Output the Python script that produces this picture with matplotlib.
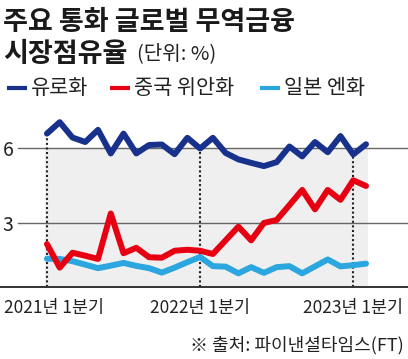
import matplotlib
matplotlib.use('Agg')
import matplotlib.pyplot as plt
from matplotlib.lines import Line2D
import matplotlib.transforms as mtransforms
import numpy as np

plt.rcParams['font.family'] = ['Noto Sans CJK KR', 'DejaVu Sans']

# ---- text ----
title_line1 = '주요 통화 글로벌 무역금융'
title_line2 = '시장점유율'
unit_text = '(단위: %)'
source_text = '※ 출처: 파이낸셜타임스(FT)'
series_names = ['유로화', '중국 위안화', '일본 엔화']
series_colors = ['#17318c', '#e60012', '#2ba6df']

# ---- data (monthly share, %) ----
euro = [6.6, 7.06, 6.44, 6.26, 6.75, 5.8, 6.6, 5.8, 6.14, 6.16, 5.77, 6.43, 6.0,
        6.43, 5.82, 5.56, 5.42, 5.29, 5.45, 6.08, 5.68, 6.26, 5.85, 6.5, 5.76, 6.17]
yuan = [2.15, 1.2, 1.8, 1.68, 1.55, 3.38, 1.78, 2.0, 1.62, 1.6, 1.88, 1.92, 1.88,
        1.75, 2.3, 2.85, 2.3, 3.0, 3.12, 3.72, 4.33, 3.55, 4.33, 3.93, 4.72, 4.49]
yen = [1.56, 1.55, 1.46, 1.32, 1.18, 1.28, 1.39, 1.27, 1.18, 1.0, 1.2, 1.42, 1.63,
       1.26, 1.24, 0.97, 1.22, 0.99, 1.22, 1.26, 0.97, 1.25, 1.53, 1.25, 1.3, 1.36]
months = np.arange(len(euro))
xtick_pos = [0, 12, 24]
xtick_labels = ['2021년 1분기', '2022년 1분기', '2023년 1분기']
yticks = [3, 6]

W, H = 408, 359
fig = plt.figure(figsize=(W / 100, H / 100), dpi=100)


def fx(px):
    return px / W


def fy(py):
    return 1 - py / H


ymin, ymax = 0.42, 7.55
ax = fig.add_axes([0, fy(287), 1, fy(110) - fy(287)])
ax.set_xlim(-3.68, 28.29)
ax.set_ylim(ymin, ymax)
ax.patch.set_alpha(0)
for s in ['top', 'right', 'left']:
    ax.spines[s].set_visible(False)
ax.spines['bottom'].set_color('#333333')
ax.spines['bottom'].set_linewidth(1.4)

# shaded data region (below the top gridline)
ax.fill_between([months[0] - 0.17, months[-1] + 0.17], ymin, max(yticks),
                color='#efefef', lw=0, zorder=0)
for v in yticks:
    ax.axhline(v, xmin=fx(18), xmax=1, color='#666666', lw=1.0, zorder=1)

# dotted guides at quarter labels, up to the euro line
ax.vlines(xtick_pos, ymin, [euro[i] for i in xtick_pos], colors='#222222',
          linestyles=(0, (1, 1.2)), lw=1.5, zorder=2)

for data, c in [(yen, series_colors[2]), (euro, series_colors[0]), (yuan, series_colors[1])]:
    ax.plot(months, data, color=c, lw=4.3, solid_capstyle='round',
            solid_joinstyle='round', zorder=3)

ax.set_xticks(xtick_pos, xtick_labels)
ax.tick_params(axis='x', length=0, pad=9, labelsize=12.5, labelcolor='#222222')
lbl0 = ax.get_xticklabels()[0]
lbl0.set_transform(lbl0.get_transform() +
                   mtransforms.ScaledTranslation(7 / 100, 0, fig.dpi_scale_trans))

ax.set_yticks(yticks, [str(v) for v in yticks])
ax.tick_params(axis='y', length=0, pad=-2, labelsize=14, labelcolor='#222222')
for t in ax.get_yticklabels():
    t.set_horizontalalignment('left')

# ---- titles ----
fig.text(fx(3), fy(30), title_line1, fontsize=19.5, weight='black',
         va='baseline', ha='left', color='#1a1a1a')
fig.text(fx(3), fy(62), title_line2, fontsize=19.5, weight='black',
         va='baseline', ha='left', color='#1a1a1a')
fig.text(fx(137), fy(59), unit_text, fontsize=14.5, va='baseline', ha='left',
         color='#222222')

# ---- legend ----
leg_x = [7, 110, 260]
for name, c, lx in zip(series_names, series_colors, leg_x):
    fig.add_artist(Line2D([fx(lx), fx(lx + 20)], [fy(88), fy(88)], color=c,
                          lw=3.0, solid_capstyle='butt'))
    fig.text(fx(lx + 24), fy(88), name, fontsize=15, va='center', ha='left',
             color='#222222')

# ---- source ----
fig.text(fx(404), fy(350), source_text, fontsize=13, va='baseline', ha='right',
         color='#222222')

fig.savefig('out.png', dpi=100)
